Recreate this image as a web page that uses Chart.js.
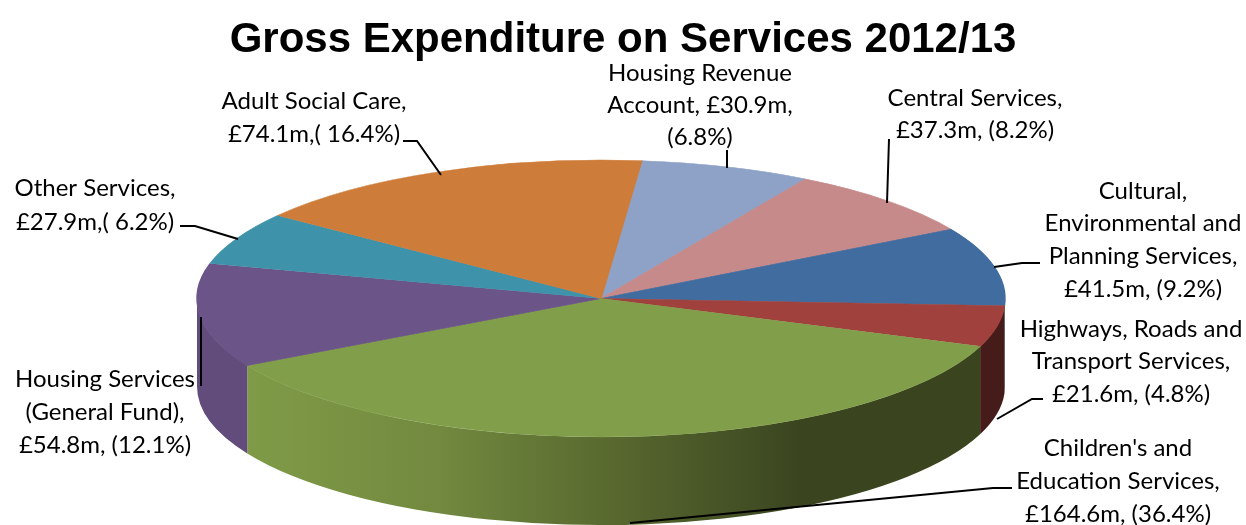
<!DOCTYPE html>
<html>
<head>
<meta charset="utf-8">
<style>
  html, body { margin: 0; padding: 0; background: #fff; overflow: hidden; }
  canvas { display: block; }
</style>
</head>
<body>
<canvas id="pie" width="1246" height="525"></canvas>
<script src="https://cdn.jsdelivr.net/npm/chart.js@4/dist/chart.umd.js"></script>
<script>
// Values in GBP million, clockwise from the top
const categories = [
  "Housing Revenue Account",
  "Central Services",
  "Cultural, Environmental and Planning Services",
  "Highways, Roads and Transport Services",
  "Children's and Education Services",
  "Housing Services (General Fund)",
  "Other Services",
  "Adult Social Care",
];
const spend = [30.9, 37.3, 41.5, 21.6, 164.6, 54.8, 27.9, 74.1];
const labelLines = [
  ["Housing Revenue", "Account, £30.9m,", "(6.8%)"],
  ["Central Services,", "£37.3m, (8.2%)"],
  ["Cultural,", "Environmental and", "Planning Services,", "£41.5m, (9.2%)"],
  ["Highways, Roads and", "Transport Services,", "£21.6m, (4.8%)"],
  ["Children's and", "Education Services,", "£164.6m, (36.4%)"],
  ["Housing Services", "(General Fund),", "£54.8m, (12.1%)"],
  ["Other Services,", "£27.9m,( 6.2%)"],
  ["Adult Social Care,", "£74.1m,( 16.4%)"],
];

// Colours for the top of each slice and its outer wall
const topColors = ["#8da2c6", "#c68a8a", "#416c9f", "#a0413d", "#819e4a", "#6b5488", "#3e92a9", "#ce7c3a"];
const wallColors = ["#6d7f9e", "#9c6c6c", "#2f4f75", "#451c1a", null, "#624c7b", "#2e6e80", "#a06030"];
const childrenWallStops = [[246, "#7f9b47"], [440, "#72893f"], [600, "#5a6b30"], [800, "#3a4520"]];

// Flattened pie geometry
const pieCenterX = 601, pieCenterY = 298.5, radiusX = 404, radiusY = 138.5, depth = 88;

// Where each label sits: centre x and middle y of each line
const labelX = [700, 975, 1143, 1131, 1118, 105, 95, 314];
const labelY = [
  [73, 105, 137],
  [98, 130],
  [191, 223, 256, 289],
  [329, 361, 394],
  [448, 481, 514],
  [379, 412, 445],
  [188, 222],
  [101, 134],
];
const leaders = [
  [[727, 150], [727, 168]],
  [[889, 139], [887, 203]],
  [[1040, 263], [1022, 263], [994, 267]],
  [[1043, 399], [1032, 399], [997, 419]],
  [[1012, 488], [993, 488], [630, 523]],
  [[201, 317], [201, 386]],
  [[180, 226], [195, 226], [238, 239]],
  [[403, 141], [417, 141], [441, 175]],
];

// Draws the walls, squashes the pie and adds the labels
const pie3d = {
  id: "pie3d",
  beforeDatasetsDraw(chart) {
    const ctx = chart.ctx;
    const grad = ctx.createLinearGradient(0, 0, 1246, 0);
    childrenWallStops.forEach(([x, c]) => grad.addColorStop(x / 1246, c));
    chart.getDatasetMeta(0).data.forEach((arc, i) => {
      const p = arc.getProps(["startAngle", "endAngle"]);
      // only the front half of the wall is visible
      const start = Math.max(p.startAngle, 0);
      const end = Math.min(p.endAngle, Math.PI);
      if (end <= start) return;
      ctx.beginPath();
      ctx.ellipse(pieCenterX, pieCenterY, radiusX, radiusY, 0, start, end);
      ctx.ellipse(pieCenterX, pieCenterY + depth, radiusX, radiusY, 0, end, start, true);
      ctx.closePath();
      ctx.fillStyle = wallColors[i] || grad;
      ctx.fill();
    });
  },
  beforeDatasetDraw(chart, args) {
    const ctx = chart.ctx;
    const arc = args.meta.data[0];
    const r = arc.outerRadius;
    ctx.save();
    ctx.translate(pieCenterX, pieCenterY);
    ctx.scale(radiusX / r, radiusY / r);
    ctx.translate(-arc.x, -arc.y);
  },
  afterDatasetDraw(chart) {
    chart.ctx.restore();
  },
  afterDatasetsDraw(chart) {
    const ctx = chart.ctx;
    ctx.save();
    ctx.strokeStyle = "#000";
    ctx.lineWidth = 2;
    leaders.forEach((line) => {
      ctx.beginPath();
      line.forEach(([x, y], i) => (i ? ctx.lineTo(x, y) : ctx.moveTo(x, y)));
      ctx.stroke();
    });
    ctx.fillStyle = "#000";
    ctx.font = '24px Lato';
    ctx.textAlign = "center";
    ctx.textBaseline = "middle";
    labelLines.forEach((lines, i) => {
      lines.forEach((text, j) => ctx.fillText(text, labelX[i], labelY[i][j]));
    });
    ctx.restore();
  },
};

new Chart(document.getElementById("pie"), {
  type: "pie",
  plugins: [pie3d],
  data: {
    labels: categories,
    datasets: [{
      data: spend,
      backgroundColor: topColors,
      // same colour as the fill, hides the seams between slices
      borderColor: topColors,
      borderWidth: 0.8,
      clip: false,
    }],
  },
  options: {
    responsive: false,
    animation: false,
    rotation: 5.8,
    plugins: {
      legend: { display: false },
      tooltip: { enabled: false },
      title: {
        display: true,
        text: "Gross Expenditure on Services 2012/13",
        color: "#000",
        font: { family: "'Liberation Sans'", size: 42, weight: "bold" },
        padding: { top: 15, bottom: 0 },
      },
    },
  },
});
</script>
</body>
</html>
